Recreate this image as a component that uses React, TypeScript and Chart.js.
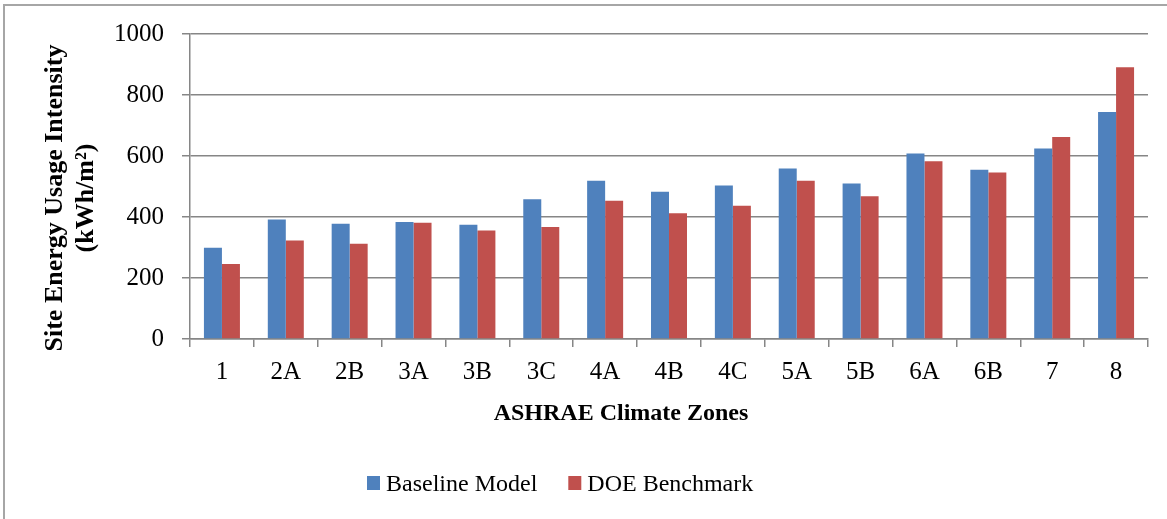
import React, { useEffect, useRef } from "react";
import { Chart, registerables } from "chart.js";

Chart.register(...registerables);

const zones = ["1", "2A", "2B", "3A", "3B", "3C", "4A", "4B", "4C", "5A", "5B", "6A", "6B", "7", "8"];
const baselineModel = [299, 392, 378, 384, 375, 458, 519, 483, 503, 559, 510, 608, 555, 625, 744];
const doeBenchmark = [246, 323, 312, 381, 356, 367, 453, 412, 437, 519, 468, 583, 546, 662, 891];
const seriesNames = ["Baseline Model", "DOE Benchmark"];
const seriesColors = ["#4f81bd", "#c0504d"];
const yTitleLines = ["Site Energy Usage Intensity", "(kWh/m\u00b2)"];
const xTitle = "ASHRAE Climate Zones";

const W = 1167;
const H = 519;
const GRID = "#868686";
const SERIF = "'Liberation Serif', 'Times New Roman', serif";

const annotPlugin = {
  id: "annot",
  afterDraw(chart: any) {
    const ctx = chart.ctx as CanvasRenderingContext2D;
    ctx.save();
    ctx.fillStyle = "#000";
    ctx.font = `bold 26px ${SERIF}`;
    ctx.textAlign = "center";
    ctx.textBaseline = "alphabetic";
    const yc = 198;
    const baselines = [62, 93];
    yTitleLines.forEach((line, i) => {
      ctx.save();
      ctx.translate(baselines[i], yc);
      ctx.rotate(-Math.PI / 2);
      ctx.fillText(line, 0, 0);
      ctx.restore();
    });
    ctx.font = `bold 24px ${SERIF}`;
    ctx.fillText(xTitle, 621, 420);
    ctx.font = `24px ${SERIF}`;
    ctx.textAlign = "left";
    let x = 367;
    chart.data.datasets.forEach((ds: any) => {
      ctx.fillStyle = ds.backgroundColor;
      ctx.fillRect(x, 476, 13, 14);
      ctx.fillStyle = "#000";
      ctx.fillText(ds.label, x + 19, 491);
      x += 19 + ctx.measureText(ds.label).width + 31;
    });
    ctx.restore();
  },
};

export default function App() {
  const ref = useRef<HTMLCanvasElement | null>(null);
  useEffect(() => {
    if (!ref.current) return;
    const chart = new Chart(ref.current, {
      type: "bar",
      data: {
        labels: zones,
        datasets: [
          {
            label: seriesNames[0],
            data: baselineModel,
            backgroundColor: seriesColors[0],
            borderWidth: 0,
            categoryPercentage: 0.5637,
            barPercentage: 1,
          },
          {
            label: seriesNames[1],
            data: doeBenchmark,
            backgroundColor: seriesColors[1],
            borderWidth: 0,
            categoryPercentage: 0.5637,
            barPercentage: 1,
          },
        ],
      },
      options: {
        animation: false,
        responsive: false,
        devicePixelRatio: 1,
        layout: { padding: { top: 34, right: 19, bottom: 0, left: 0 } },
        plugins: {
          legend: { display: false },
          tooltip: { enabled: false },
          title: { display: false },
        },
        scales: {
          x: {
            offset: true,
            grid: {
              offset: true,
              drawOnChartArea: false,
              drawTicks: true,
              tickLength: 8,
              color: GRID,
              lineWidth: 1.5,
            },
            border: { display: true, color: GRID, width: 1.5 },
            ticks: {
              color: "#000",
              font: { family: SERIF, size: 25 },
              padding: 10,
              maxRotation: 0,
              autoSkip: false,
            },
            afterFit(s: any) {
              s.height = H - 339;
            },
          },
          y: {
            min: 0,
            max: 1000,
            ticks: {
              stepSize: 200,
              color: "#000",
              font: { family: SERIF, size: 25 },
              padding: 18,
              callback: (v: any) => String(v),
            },
            grid: {
              color: GRID,
              lineWidth: 1.5,
              drawTicks: true,
              tickLength: 8,
            },
            border: { display: true, color: GRID, width: 1.5 },
            afterFit(s: any) {
              s.width = 190;
            },
          },
        },
      },
      plugins: [annotPlugin],
    });
    return () => chart.destroy();
  }, []);

  return (
    <div
      style={{
        position: "fixed",
        left: 0,
        top: 0,
        width: W,
        height: H,
        overflow: "hidden",
        background: "#fff",
      }}
    >
      <div
        style={{
          position: "absolute",
          left: 3,
          top: 4,
          width: 1400,
          height: 800,
          borderLeft: "2px solid #a6a6a6",
          borderTop: "2px solid #a6a6a6",
        }}
      />
      <canvas
        ref={ref}
        width={W}
        height={H}
        style={{ position: "absolute", left: 0, top: 0, width: W, height: H }}
      />
    </div>
  );
}
